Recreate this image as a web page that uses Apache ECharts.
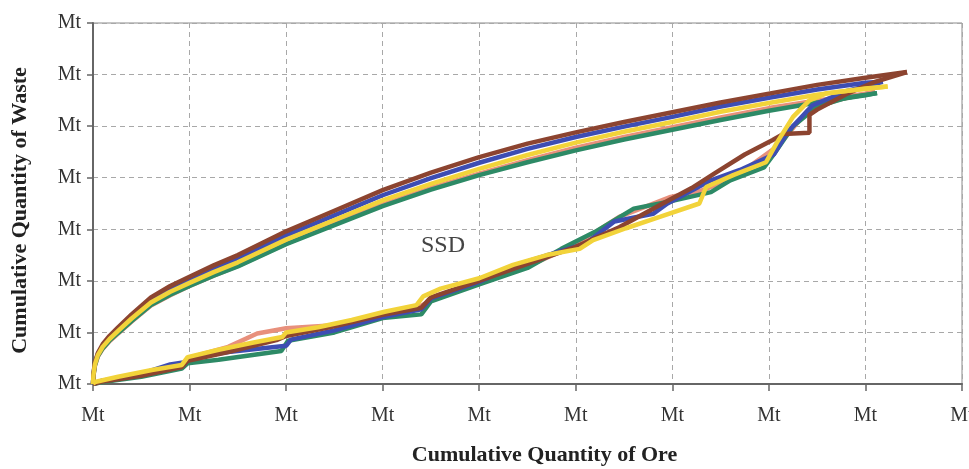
<!DOCTYPE html>
<html>
<head>
<meta charset="utf-8">
<script src="https://cdn.jsdelivr.net/npm/echarts@6/dist/echarts.min.js"></script>
<style>
  html, body { margin: 0; padding: 0; background: #fff; }
  #chart { width: 969px; height: 469px; }
</style>
</head>
<body>
<div id="chart"></div>
<script>
// ticks: every axis label in the figure just reads "Mt"
const xTicks = [0, 1, 2, 3, 4, 5, 6, 7, 8, 9]
const yTicks = [0, 1, 2, 3, 4, 5, 6, 7]
const tickText = 'Mt'

// upper branch (waste-heavy schedules), shared ore steps + own end point
const upperX = [0, 0.005, 0.02, 0.05, 0.1, 0.17, 0.26, 0.4, 0.6, 0.8, 1.0, 1.25, 1.5, 2.0, 2.5, 3.0, 3.5, 4.0, 4.5, 5.0, 5.5, 6.0, 6.5, 7.0, 7.5, 8.0]
const brownUpper = [0, 0.2, 0.42, 0.6, 0.77, 0.93, 1.1, 1.35, 1.68, 1.9, 2.08, 2.3, 2.5, 2.96, 3.36, 3.76, 4.1, 4.4, 4.66, 4.88, 5.08, 5.27, 5.46, 5.63, 5.8, 5.94]
const blueUpper = [0, 0.19, 0.4, 0.58, 0.74, 0.9, 1.06, 1.31, 1.63, 1.84, 2.02, 2.23, 2.43, 2.88, 3.27, 3.66, 3.99, 4.29, 4.56, 4.79, 4.99, 5.18, 5.38, 5.55, 5.71, 5.84]
const yellowUpper = [0, 0.18, 0.38, 0.56, 0.72, 0.87, 1.03, 1.27, 1.58, 1.79, 1.96, 2.17, 2.36, 2.8, 3.18, 3.56, 3.88, 4.17, 4.44, 4.68, 4.89, 5.08, 5.28, 5.45, 5.61, 5.73]
const greenUpper = [0, 0.17, 0.36, 0.54, 0.69, 0.84, 0.99, 1.22, 1.53, 1.73, 1.9, 2.1, 2.28, 2.71, 3.08, 3.45, 3.77, 4.05, 4.3, 4.53, 4.74, 4.93, 5.12, 5.3, 5.46, 5.6]
const pinkUpper = [0, 0.16, 0.35, 0.53, 0.68, 0.83, 0.98, 1.21, 1.52, 1.72, 1.9, 2.1, 2.29, 2.72, 3.1, 3.48, 3.8, 4.08, 4.34, 4.58, 4.79, 4.98, 5.17, 5.35, 5.5, 5.63]
const endPoints = {
  brown: [8.43, 6.05],
  blue: [8.18, 5.86],
  yellow: [8.23, 5.77],
  green: [8.12, 5.64],
  pink: [8.1, 5.67]
}

// lower branch (ore-first schedules), [ore, waste]
const brownLower = [[0, 0], [0.1, 0.05], [0.5, 0.16], [0.92, 0.33], [0.98, 0.45], [1.4, 0.62], [1.9, 0.85], [2.0, 0.93], [2.5, 1.12], [3.0, 1.34], [3.4, 1.48], [3.5, 1.68], [4.0, 2.0], [4.5, 2.33], [5.0, 2.66], [5.45, 3.04], [5.9, 3.5], [6.2, 3.8], [6.45, 4.1], [6.75, 4.45], [7.04, 4.73], [7.15, 4.85], [7.42, 4.87], [7.42, 5.22], [7.5, 5.32], [7.8, 5.62], [8.1, 5.86], [8.43, 6.05]]
const blueLower = [[0, 0], [0.1, 0.07], [0.4, 0.14], [0.8, 0.38], [0.95, 0.42], [1.0, 0.5], [1.4, 0.62], [2.0, 0.74], [2.05, 0.86], [2.5, 1.04], [3.0, 1.3], [3.4, 1.45], [3.5, 1.66], [4.0, 1.98], [4.4, 2.32], [4.8, 2.55], [5.1, 2.72], [5.4, 3.15], [5.8, 3.3], [5.95, 3.5], [6.4, 3.95], [6.7, 4.15], [7.05, 4.45], [7.2, 4.9], [7.45, 5.4], [7.8, 5.68], [8.18, 5.86]]
const pinkLower = [[0, 0], [0.1, 0.05], [0.5, 0.17], [0.92, 0.35], [0.98, 0.5], [1.4, 0.72], [1.7, 0.98], [2.0, 1.08], [2.5, 1.14], [3.0, 1.36], [3.35, 1.47], [3.5, 1.62], [4.0, 1.98], [4.5, 2.28], [5.0, 2.7], [5.45, 3.24], [5.97, 3.62], [6.3, 3.75], [6.65, 4.0], [6.8, 4.22], [7.08, 4.6], [7.2, 4.85], [7.4, 5.3], [7.7, 5.5], [8.1, 5.67]]
const greenLower = [[0, 0], [0.1, 0.04], [0.5, 0.14], [0.92, 0.3], [0.98, 0.4], [1.3, 0.47], [1.95, 0.64], [2.02, 0.84], [2.5, 1.0], [3.0, 1.28], [3.4, 1.35], [3.5, 1.6], [4.0, 1.93], [4.5, 2.25], [4.85, 2.62], [5.2, 2.95], [5.6, 3.4], [6.0, 3.55], [6.4, 3.72], [6.6, 3.95], [6.95, 4.2], [7.05, 4.45], [7.25, 5.0], [7.5, 5.38], [7.8, 5.55], [8.12, 5.64]]
const yellowLower = [[0, 0], [0.02, 0.04], [0.26, 0.14], [0.61, 0.27], [0.92, 0.37], [0.98, 0.52], [1.29, 0.66], [1.65, 0.8], [1.96, 0.91], [2.0, 1.0], [2.33, 1.1], [2.68, 1.24], [3.02, 1.4], [3.35, 1.53], [3.42, 1.7], [3.6, 1.85], [4.0, 2.05], [4.35, 2.31], [4.7, 2.5], [5.04, 2.62], [5.18, 2.79], [5.52, 3.02], [5.87, 3.24], [6.28, 3.5], [6.35, 3.82], [6.63, 4.05], [6.97, 4.3], [7.08, 4.67], [7.25, 5.18], [7.42, 5.5], [7.6, 5.64], [7.94, 5.71], [8.23, 5.77]]

const colors = {
  brown: '#8c4430',
  blue: '#3d4db3',
  yellow: '#f2d33a',
  green: '#2d8a66',
  pink: '#e8907c'
}

function upperPairs(ys, end) {
  const pts = ys.map((y, i) => [upperX[i], y])
  pts.push(end)
  return pts
}

const curves = [
  { key: 'pink', upper: pinkUpper, lower: pinkLower },
  { key: 'green', upper: greenUpper, lower: greenLower },
  { key: 'blue', upper: blueUpper, lower: blueLower },
  { key: 'brown', upper: brownUpper, lower: brownLower },
  { key: 'yellow', upper: yellowUpper, lower: yellowLower }
]

const series = []
curves.forEach(c => {
  const style = { color: colors[c.key], width: 4.5 }
  series.push({
    name: c.key + '-upper',
    type: 'line',
    data: upperPairs(c.upper, endPoints[c.key]),
    showSymbol: false,
    lineStyle: style,
    itemStyle: { color: colors[c.key] }
  })
  series.push({
    name: c.key + '-lower',
    type: 'line',
    data: c.lower,
    showSymbol: false,
    lineStyle: style,
    itemStyle: { color: colors[c.key] }
  })
})

const serif = "'Liberation Serif', 'DejaVu Serif', serif"
const chart = echarts.init(document.getElementById('chart'))
chart.setOption({
  animation: false,
  backgroundColor: '#fff',
  title: {
    text: 'SSD',
    left: 416,
    top: 229,
    textStyle: { fontFamily: serif, fontSize: 24, fontWeight: 'normal', color: '#444' }
  },
  grid: {
    left: 93,
    right: 7,
    top: 23,
    bottom: 85,
    containLabel: false,
    outerBoundsMode: 'none',
    show: true,
    borderColor: '#8a8a8a',
    borderWidth: 1
  },
  xAxis: {
    type: 'value',
    min: xTicks[0],
    max: xTicks[xTicks.length - 1],
    interval: 1,
    name: 'Cumulative Quantity of Ore',
    nameLocation: 'middle',
    nameGap: 60,
    nameTextStyle: { fontFamily: serif, fontSize: 22, fontWeight: 'bold', color: '#222', padding: [0, 0, 0, 34] },
    axisLine: { show: true, lineStyle: { color: '#666', width: 2 } },
    axisTick: { show: true, length: 7, lineStyle: { color: '#666', width: 1.5 } },
    axisLabel: { formatter: () => tickText, margin: 22, fontFamily: serif, fontSize: 20, color: '#333' },
    splitLine: { show: true, lineStyle: { color: '#a8a8a8', type: [5, 4], width: 1 } }
  },
  yAxis: {
    type: 'value',
    min: yTicks[0],
    max: yTicks[yTicks.length - 1],
    interval: 1,
    name: 'Cumulative Quantity of Waste',
    nameLocation: 'middle',
    nameGap: 62,
    nameTextStyle: { fontFamily: serif, fontSize: 22, fontWeight: 'bold', color: '#222', padding: [0, 14, 0, 0] },
    axisLine: { show: true, lineStyle: { color: '#666', width: 2 } },
    axisTick: { show: true, length: 6, lineStyle: { color: '#666', width: 1.5 } },
    axisLabel: { formatter: () => tickText, margin: 12, fontFamily: serif, fontSize: 20, color: '#333' },
    splitLine: { show: true, lineStyle: { color: '#a8a8a8', type: [5, 4], width: 1 } }
  },
  series
})
</script>
</body>
</html>
